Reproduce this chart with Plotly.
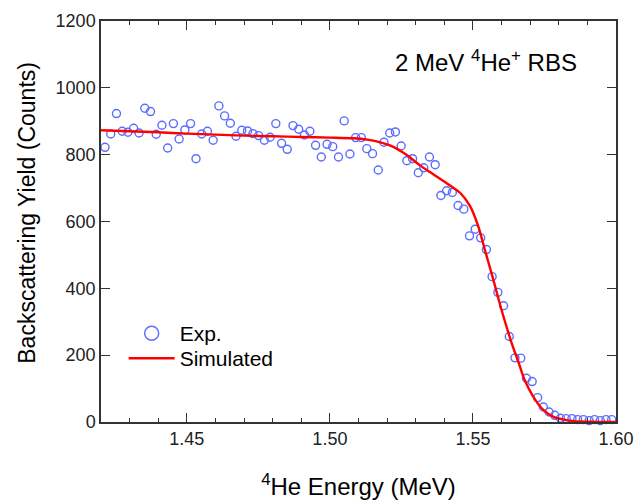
import plotly.graph_objects as go

# ---- data ----
energy_exp = [
    1.4214, 1.4234, 1.4254, 1.4274, 1.4294, 1.4314, 1.4333, 1.4353, 1.4373, 1.4393,
    1.4413, 1.4433, 1.4453, 1.4473, 1.4493, 1.4513, 1.4532, 1.4552, 1.4572, 1.4592,
    1.4612, 1.4632, 1.4652, 1.4672, 1.4692, 1.4712, 1.4731, 1.4751, 1.4771, 1.4791,
    1.4811, 1.4831, 1.4851, 1.4871, 1.4891, 1.4911, 1.4930, 1.4950, 1.4970, 1.4990,
    1.5010, 1.5030, 1.5050, 1.5070, 1.5090, 1.5110, 1.5129, 1.5149, 1.5169, 1.5189,
    1.5209, 1.5229, 1.5249, 1.5269, 1.5289, 1.5309, 1.5328, 1.5348, 1.5368, 1.5388,
    1.5408, 1.5428, 1.5448, 1.5468, 1.5488, 1.5508, 1.5527, 1.5547, 1.5567, 1.5587,
    1.5607, 1.5627, 1.5647, 1.5667, 1.5687, 1.5707, 1.5726, 1.5746, 1.5766, 1.5786,
    1.5806, 1.5826, 1.5846, 1.5866, 1.5886, 1.5906, 1.5925, 1.5945, 1.5965, 1.5985,
]
counts_exp = [
    822, 862, 923, 870, 867, 879, 865, 939, 929, 861,
    888, 820, 893, 847, 874, 893, 788, 862, 870, 843,
    946, 916, 894, 855, 873, 871, 863, 857, 843, 852,
    893, 834, 816, 887, 876, 859, 870, 828, 793, 831,
    824, 793, 901, 802, 851, 851, 818, 803, 754, 837,
    865, 868, 826, 782, 788, 746, 761, 793, 770, 678,
    692, 687, 648, 637, 557, 577, 551, 516, 435, 388,
    348, 256, 192, 191, 131, 121, 73, 45, 30, 20,
    11, 10, 10, 7, 7, 4, 7, 4, 7, 7,
]

energy_sim = [
    1.420, 1.430, 1.440, 1.450, 1.460, 1.470, 1.480, 1.490, 1.500, 1.508,
    1.513, 1.518, 1.522, 1.527, 1.5315, 1.535, 1.5385, 1.542, 1.5455, 1.549,
    1.552, 1.5545, 1.557, 1.559, 1.561, 1.5635, 1.566, 1.568, 1.571, 1.5745,
    1.578, 1.583, 1.5875, 1.593, 1.600,
]
counts_sim = [
    873, 870, 867, 863, 860, 857, 855, 853, 851, 849,
    845, 836, 824, 798, 768, 748, 728, 708, 686, 646,
    582, 505, 430, 366, 306, 237, 177, 127, 77, 37,
    16, 5, 1.5, 0.5, 0,
]

x_tick_vals = [1.45, 1.50, 1.55, 1.60]
x_tick_text = ["1.45", "1.50", "1.55", "1.60"]
x_minor_vals = [1.43, 1.44, 1.46, 1.47, 1.48, 1.49, 1.51, 1.52, 1.53, 1.54,
                1.56, 1.57, 1.58, 1.59]
y_tick_vals = [0, 200, 400, 600, 800, 1000, 1200]
y_tick_text = ["0", "200", "400", "600", "800", "1000", "1200"]

FONT = "Arial, Liberation Sans, sans-serif"
BLUE = "#5b6dff"
AX = "#333333"

fig = go.Figure()
fig.add_trace(go.Scatter(
    x=energy_exp, y=counts_exp, mode="markers", showlegend=False,
    marker=dict(symbol="circle-open", size=8, color=BLUE, line=dict(width=1.4)),
    cliponaxis=False,
))
fig.add_trace(go.Scatter(
    x=[None], y=[None], mode="markers", name="Exp.", legend="legend",
    marker=dict(symbol="circle-open", size=14, color=BLUE, line=dict(width=1.5)),
))
fig.add_trace(go.Scatter(
    x=energy_sim, y=counts_sim, mode="lines", name="Simulated", legend="legend2",
    line=dict(color="#ff0000", width=2.4, shape="spline", smoothing=0.8),
    cliponaxis=False,
))

leg_common = dict(
    xanchor="left", yanchor="middle",
    font=dict(size=21, color="black"), bgcolor="rgba(0,0,0,0)",
    itemwidth=46,
)

fig.update_layout(
    width=635, height=500,
    margin=dict(l=101, r=19, t=21, b=78, autoexpand=False),
    paper_bgcolor="white", plot_bgcolor="white",
    font=dict(family=FONT, color="black"),
    showlegend=True,
    legend=dict(x=0.044, y=0.2204, **leg_common),
    legend2=dict(x=0.044, y=0.1582, **leg_common),
    xaxis=dict(
        range=[1.42, 1.60], tickmode="array", tickvals=x_tick_vals, ticktext=x_tick_text,
        ticks="inside", ticklen=9, tickwidth=1.2, tickcolor=AX,
        minor=dict(tickmode="array", tickvals=x_minor_vals, ticks="inside",
                   ticklen=4.5, tickwidth=1.2, tickcolor=AX, showgrid=False),
        showline=True, linecolor=AX, linewidth=1.5, mirror="ticks",
        showgrid=False, zeroline=False, automargin=False,
        tickfont=dict(size=18, color="#222"),
        title=dict(text="<sup>4</sup>He Energy (MeV)", font=dict(size=24, color="black"), standoff=33),
    ),
    yaxis=dict(
        range=[0, 1200], tickmode="array", tickvals=y_tick_vals, ticktext=y_tick_text,
        ticks="inside", ticklen=9, tickwidth=1.2, tickcolor=AX,
        showline=True, linecolor=AX, linewidth=1.5, mirror="ticks",
        showgrid=False, zeroline=False, automargin=False,
        tickfont=dict(size=18, color="#222"),
    ),
    annotations=[
        dict(
            x=1.5221, y=1080, xref="x", yref="y", xanchor="left", yanchor="middle",
            text="2 MeV <sup>4</sup>He<sup>+</sup> RBS", showarrow=False,
            font=dict(size=24, color="black"),
        ),
        dict(
            x=-0.1437, y=0.5218, xref="paper", yref="paper", xanchor="center", yanchor="middle",
            text="Backscattering Yield (Counts)", textangle=-90, showarrow=False,
            font=dict(size=23, color="black"),
        ),
    ],
)

fig.write_html(
    "out.html",
    config={"displayModeBar": False},
    post_script="document.body.style.margin='0';document.body.style.overflow='hidden';",
)
